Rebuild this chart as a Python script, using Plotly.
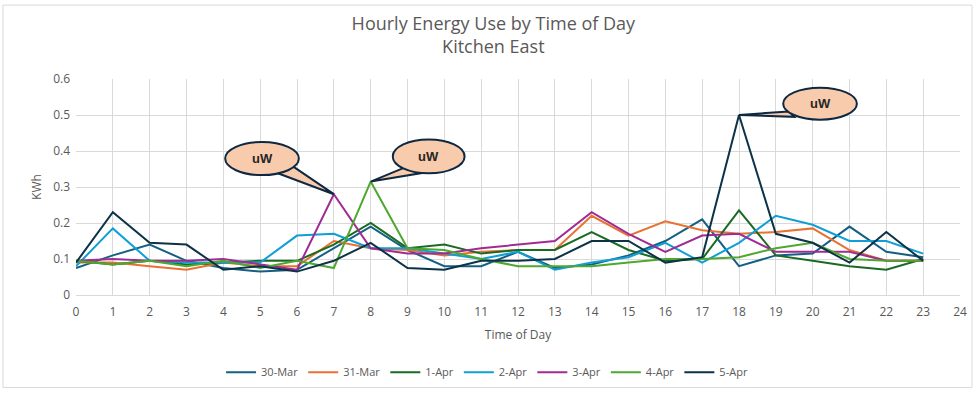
import plotly.graph_objects as go

hours = list(range(24))
series_names = ["30-Mar", "31-Mar", "1-Apr", "2-Apr", "3-Apr", "4-Apr", "5-Apr"]
mar30 = [0.075, 0.11, 0.14, 0.095, 0.075, 0.065, 0.07, 0.13, 0.19, 0.125, 0.08, 0.08,
         0.12, 0.075, 0.085, 0.11, 0.15, 0.21, 0.08, 0.11, 0.115, 0.19, 0.12, 0.105]
mar31 = [0.09, 0.09, 0.08, 0.07, 0.09, 0.08, 0.08, 0.15, 0.13, 0.125, 0.11, 0.12,
         0.125, 0.125, 0.22, 0.165, 0.205, 0.18, 0.17, 0.175, 0.185, 0.125, 0.095, 0.095]
apr1 = [0.095, 0.085, 0.095, 0.085, 0.09, 0.095, 0.095, 0.14, 0.2, 0.13, 0.14, 0.115,
        0.125, 0.125, 0.175, 0.125, 0.095, 0.1, 0.235, 0.11, 0.095, 0.08, 0.07, 0.1]
apr2 = [0.08, 0.185, 0.095, 0.09, 0.09, 0.09, 0.165, 0.17, 0.13, 0.13, 0.115, 0.1,
        0.12, 0.07, 0.09, 0.105, 0.145, 0.09, 0.145, 0.22, 0.195, 0.15, 0.15, 0.115]
apr3 = [0.095, 0.1, 0.095, 0.095, 0.1, 0.085, 0.07, 0.28, 0.13, 0.115, 0.115, 0.13,
        0.14, 0.15, 0.23, 0.17, 0.12, 0.165, 0.17, 0.12, 0.12, 0.12, 0.095, 0.095]
apr4 = [0.095, 0.085, 0.095, 0.08, 0.095, 0.075, 0.095, 0.075, 0.315, 0.13, 0.125, 0.1,
        0.08, 0.08, 0.08, 0.09, 0.1, 0.1, 0.105, 0.13, 0.145, 0.1, 0.095, 0.095]
apr5 = [0.09, 0.23, 0.145, 0.14, 0.07, 0.08, 0.065, 0.095, 0.145, 0.075, 0.07, 0.095,
        0.095, 0.1, 0.15, 0.15, 0.09, 0.105, 0.5, 0.17, 0.145, 0.09, 0.175, 0.095]
all_series = [mar30, mar31, apr1, apr2, apr3, apr4, apr5]
colors = ["#156082", "#E97132", "#196B24", "#0F9ED5", "#A02B93", "#4EA72E", "#0C3247"]

# callout labels: (label, hour of pointed point, series index)
callouts = [("uW", 7, 4), ("uW", 8, 5), ("uW", 18, 6)]
x_ticks = list(range(25))
y_ticks = [0, 0.1, 0.2, 0.3, 0.4, 0.5, 0.6]

fig = go.Figure()
for name, vals, c in zip(series_names, all_series, colors):
    fig.add_trace(go.Scatter(x=hours, y=vals, name=name, mode="lines",
                             line=dict(color=c, width=2)))

# callout geometry (ellipse box in data coords, tail base points)
boxes = [
    dict(x0=4.05, x1=6.05, y0=0.333, y1=0.425, tail=[(5.3, 0.345), (5.85, 0.36)]),
    dict(x0=8.6, x1=10.55, y0=0.338, y1=0.432, tail=[(8.95, 0.355), (9.35, 0.338)]),
    dict(x0=19.2, x1=21.2, y0=0.487, y1=0.576, tail=[(19.35, 0.51), (19.5, 0.495)]),
]
for (label, h, si), b in zip(callouts, boxes):
    px, py = h, all_series[si][h]
    (ax, ay), (bx, by) = b["tail"]
    fig.add_shape(type="path", xref="x", yref="y",
                  path=f"M {ax} {ay} L {px} {py} L {bx} {by} Z",
                  fillcolor="#F8CBAD", line=dict(color="#0E2841", width=2), layer="above")
    fig.add_shape(type="circle", xref="x", yref="y", x0=b["x0"], x1=b["x1"],
                  y0=b["y0"], y1=b["y1"], fillcolor="#F8CBAD",
                  line=dict(color="#0E2841", width=2), layer="above")
    fig.add_annotation(x=(b["x0"] + b["x1"]) / 2, y=(b["y0"] + b["y1"]) / 2,
                       text="<b>" + label + "</b>", showarrow=False,
                       font=dict(size=13, color="#262626", family="Liberation Sans"))

# outer chart border
fig.add_shape(type="rect", xref="paper", yref="paper", x0=-0.0826, x1=1.0136,
              y0=-0.428, y1=1.342, line=dict(color="#D9D9D9", width=1), layer="below")

fig.update_layout(
    width=975, height=399,
    margin=dict(l=76, r=15, t=79, b=98),
    paper_bgcolor="white", plot_bgcolor="white",
    font=dict(family="Open Sans", color="#595959", size=12),
    title=dict(text="Hourly Energy Use by Time of Day<br>Kitchen East",
               x=0.506, xanchor="center", y=0.925, yanchor="top",
               font=dict(size=18, color="#595959", family="Open Sans")),
    showlegend=True,
    legend=dict(orientation="h", x=0.465, xanchor="center", y=-0.29, yanchor="top",
                font=dict(size=11, color="#595959")),
    xaxis=dict(range=[0, 24], tickvals=x_ticks, showgrid=True, gridcolor="#D9D9D9",
               gridwidth=1, zeroline=False, showline=True, linecolor="#D9D9D9",
               automargin=False, ticklabelstandoff=6,
               title=dict(text="Time of Day", font=dict(size=12, color="#595959"), standoff=11),
               ticks="", tickfont=dict(size=12)),
    yaxis=dict(range=[0, 0.6], tickvals=y_ticks, showgrid=True, gridcolor="#D9D9D9",
               gridwidth=1, zeroline=False, showline=False, automargin=False,
               ticklabelstandoff=5,
               title=dict(text="KWh", font=dict(size=12, color="#595959"), standoff=8),
               ticks="", tickfont=dict(size=12)),
)

fig.write_html("out.html", config={"displayModeBar": False},
               post_script="document.body.style.margin='0';")
